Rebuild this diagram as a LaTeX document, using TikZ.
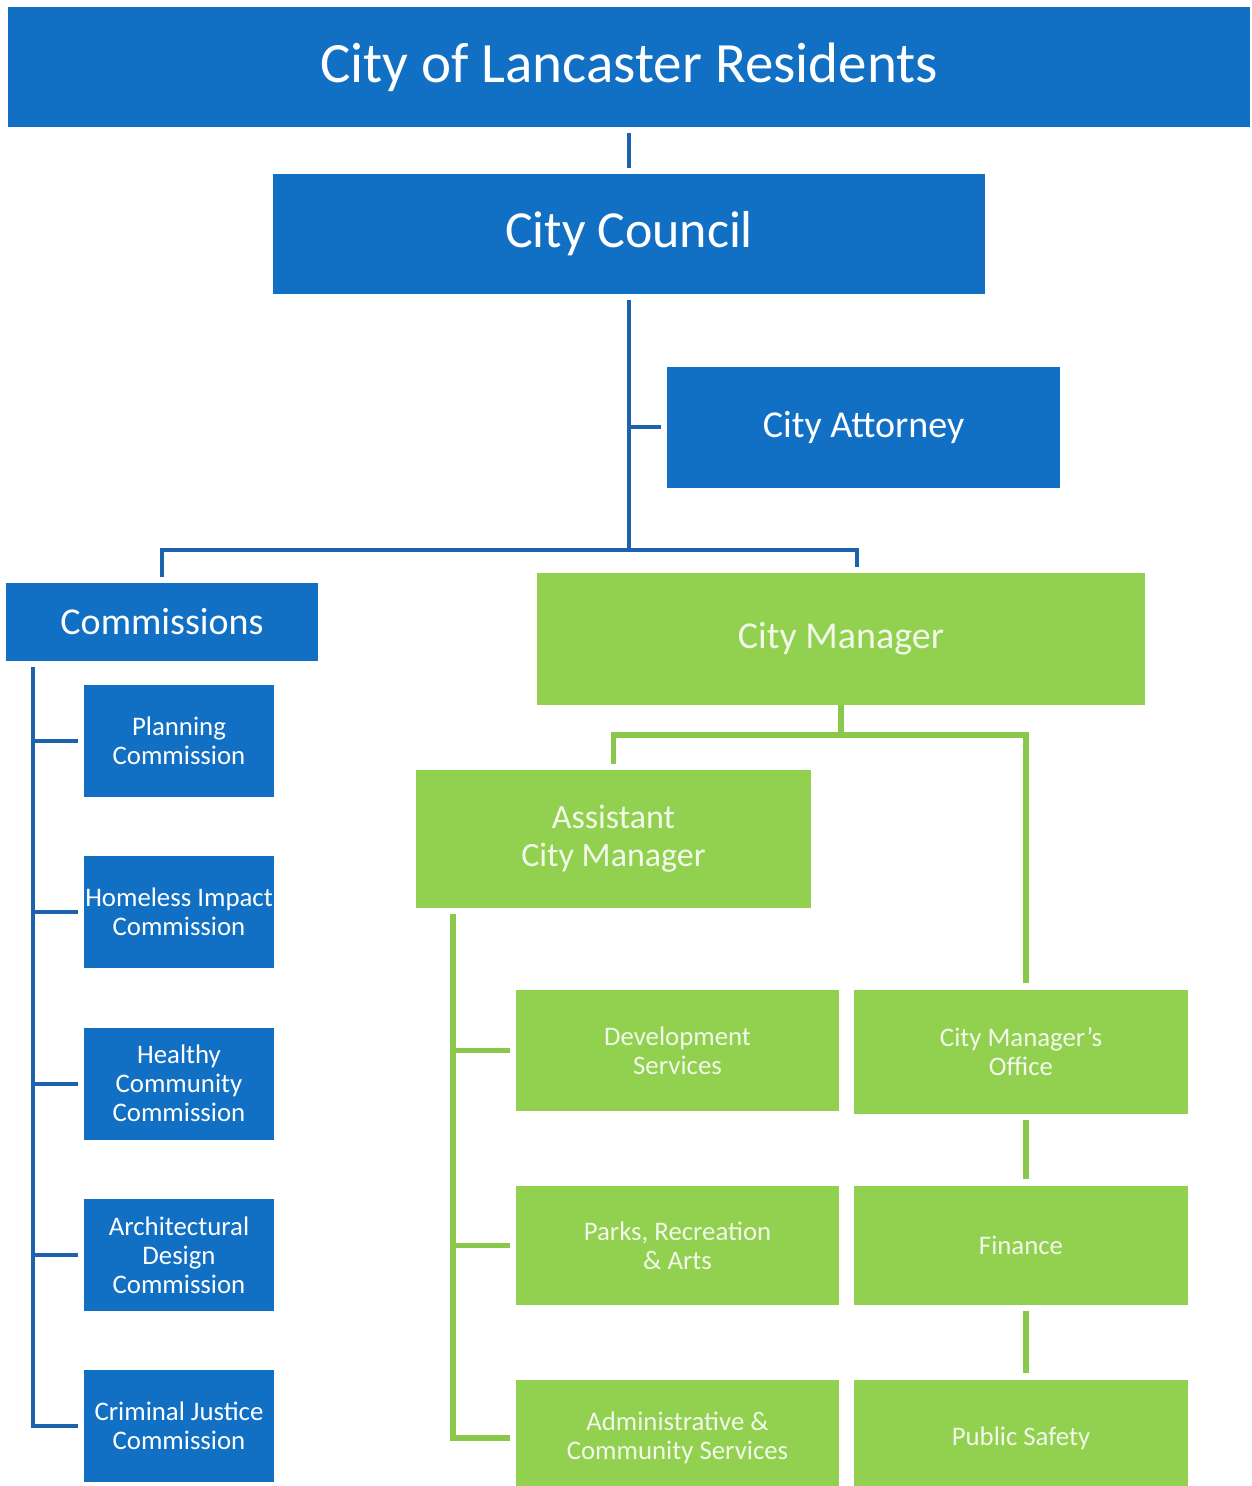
\documentclass[tikz,border=0pt]{standalone}
\usepackage{fontspec}
\setmainfont{Carlito}

\definecolor{lanblue}{RGB}{17,112,196}
\definecolor{lanline}{RGB}{28,98,172}
\definecolor{langreen}{RGB}{146,208,80}
\definecolor{lanlgreen}{RGB}{138,200,76}
\definecolor{lantext}{RGB}{242,249,234}

\tikzset{
  box/.style={inner sep=0pt, align=center, text=white},
  blu/.style={box, fill=lanblue},
  grn/.style={box, fill=langreen, text=lantext},
  bline/.style={draw=lanline, line width=2pt},
  gline/.style={draw=lanlgreen, line width=2.6pt},
  big/.style={font=\fontsize{28.5}{32}\selectfont},
  mid/.style={font=\fontsize{19}{22}\selectfont},
  sml/.style={font=\fontsize{13.4}{14.5}\selectfont},
}

\begin{document}
\begin{tikzpicture}[x=0.5pt,y=-0.5pt]
  \useasboundingbox (0,0) rectangle (1251,1486);

  \node[blu, big, minimum width=621pt, minimum height=60pt] (res) at (629,67) {City of Lancaster Residents};
  \node[blu, font=\fontsize{26}{30}\selectfont, minimum width=356pt, minimum height=60pt] (council) at (629,234) {City Council};
  \node[blu, mid, minimum width=196.5pt, minimum height=60.5pt] (attorney) at (863.5,427.5) {City Attorney};
  \node[blu, mid, minimum width=156pt, minimum height=39pt] (comm) at (162,622) {Commissions};
  \node[grn, mid, minimum width=304pt, minimum height=66pt] (mgr) at (841,639) {City Manager};
  \node[grn, font=\fontsize{17}{19}\selectfont, minimum width=197.5pt, minimum height=69pt] (asst) at (613.5,839) {Assistant\\City Manager};

  \foreach \n/\y/\t in {1/741/{Planning\\Commission}, 2/912/{Homeless Impact\\Commission},
      3/1083.5/{Healthy\\Community\\Commission}, 4/1255/{Architectural\\Design\\Commission},
      5/1426/{Criminal Justice\\Commission}}
    \node[blu, sml, minimum width=95pt, minimum height=56pt] (c\n) at (179,\y) {\t};

  \node[grn, sml, minimum width=161.5pt, minimum height=60.5pt] (dev) at (677.5,1050.5) {Development\\Services};
  \node[grn, sml, minimum width=161.5pt, minimum height=59.5pt] (parks) at (677.5,1245.5) {Parks, Recreation\\\& Arts};
  \node[grn, sml, minimum width=161.5pt, minimum height=58pt] (admin) at (677.5,1438) {Administrative \&\\Community Services};
  \node[grn, sml, minimum width=167pt, minimum height=62pt] (cmo) at (1021,1052) {City Manager's\\Office};
  \node[grn, sml, minimum width=167pt, minimum height=59.5pt] (fin) at (1021,1245.5) {Finance};
  \node[grn, sml, minimum width=167pt, minimum height=58pt] (safety) at (1021,1438) {Public Safety};

  \coordinate (cbus) at (629,550);
  \coordinate (mgrin) at ([xshift=8pt]mgr.north);
  \coordinate (cspine) at (33,667);
  \coordinate (gbus) at (841,735);
  \coordinate (aspine) at (453,914);
  \coordinate (gright) at ([xshift=2.5pt]cmo.north);

  \draw[bline, shorten <=3pt, shorten >=3pt] (res.south) -- (council.north);
  \draw[bline, shorten <=3pt] (council) -- (cbus);
  \draw[bline, shorten <=3pt] (attorney) -- (attorney -| cbus);
  \draw[bline, shorten <=3pt, shorten >=3pt] (comm) |- (cbus) -| (mgrin);
  \draw[bline, shorten >=3pt] (cspine) |- (c5.west);
  \foreach \n in {1,...,4}
    \draw[bline, shorten <=3pt] (c\n.west) -- (c\n.west -| cspine);

  \draw[gline] (mgr) -- (gbus);
  \draw[gline, shorten <=3pt, shorten >=3.5pt] (asst) |- (gbus) -| (gright);
  \draw[gline, shorten >=3pt] (aspine) |- (admin.west);
  \draw[gline, shorten <=3pt] (dev.west) -- (dev.west -| aspine);
  \draw[gline, shorten <=3pt] (parks.west) -- (parks.west -| aspine);
  \draw[gline, shorten <=3pt, shorten >=3.5pt] (cmo.south -| gright) -- (fin.north -| gright);
  \draw[gline, shorten <=3pt, shorten >=3.5pt] (fin.south -| gright) -- (safety.north -| gright);
\end{tikzpicture}
\end{document}
